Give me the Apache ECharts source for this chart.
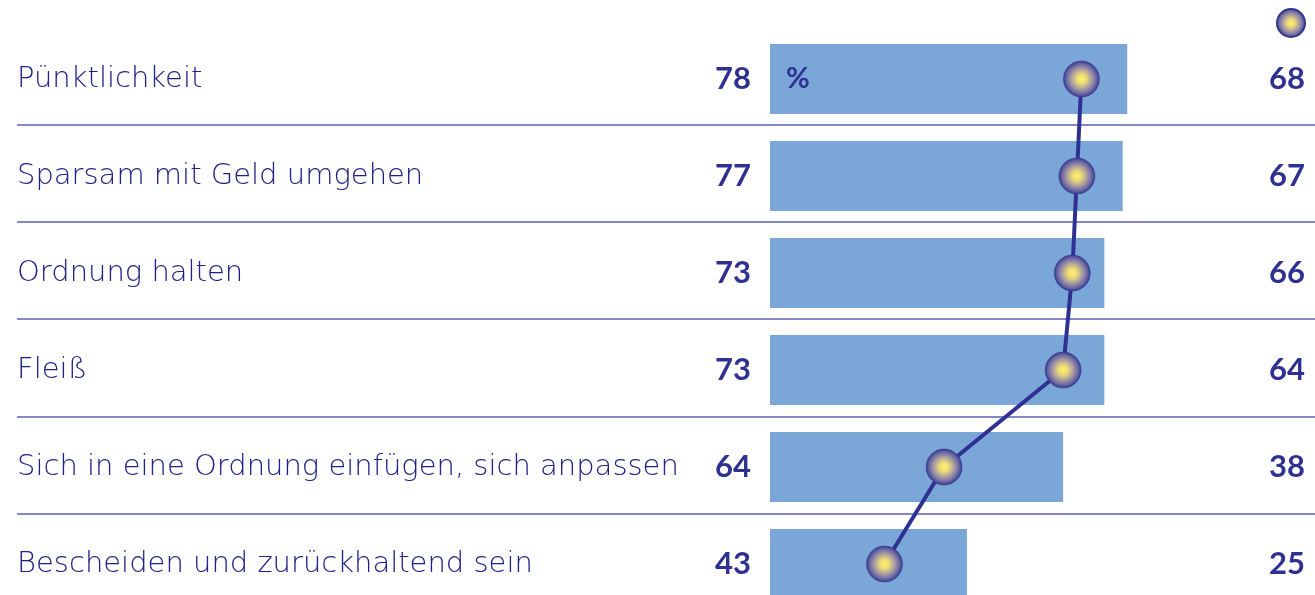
<!DOCTYPE html>
<html>
<head>
<meta charset="utf-8">
<script src="https://cdn.jsdelivr.net/npm/echarts@6/dist/echarts.min.js"></script>
<style>
  html, body { margin: 0; padding: 0; background: #fff; }
  #chart { width: 1315px; height: 595px; }
</style>
</head>
<body>
<div id="chart"></div>
<script>
// data
var categories = [
    'Pünktlichkeit',
    'Sparsam mit Geld umgehen',
    'Ordnung halten',
    'Fleiß',
    'Sich in eine Ordnung einfügen, sich anpassen',
    'Bescheiden und zurückhaltend sein'
];
var barValues = [78, 77, 73, 73, 64, 43];
var lineValues = [68, 67, 66, 64, 38, 25];
var separators = ['', '', '', '', ''];

var navy = '#2e3192';
var labelFont = '"DejaVu Sans", sans-serif';
var numFont = 'Lato, "Open Sans", sans-serif';

var dotColor = new echarts.graphic.RadialGradient(0.5, 0.5, 0.5, [
    { offset: 0, color: '#fff45f' },
    { offset: 0.25, color: '#eedb7a' },
    { offset: 0.55, color: '#ab9f9f' },
    { offset: 0.82, color: '#6a67a4' },
    { offset: 1, color: '#33358f' }
]);

var chart = echarts.init(document.getElementById('chart'));

var option = {
    animation: false,
    backgroundColor: '#fff',
    legend: {
        right: 9,
        top: 8,
        padding: 0,
        itemWidth: 28,
        itemHeight: 28,
        data: [{ name: 'Wert 2', icon: 'circle' }],
        formatter: function () { return ''; }
    },
    grid: [
        { left: 770, top: 30.5, width: 458, height: 582, outerBoundsMode: 'none' },
        { left: 17, right: 0, top: 124.5, height: 389, outerBoundsMode: 'none' }
    ],
    xAxis: [
        { type: 'value', gridIndex: 0, min: 0, max: 100, show: false },
        { type: 'value', gridIndex: 1, show: false }
    ],
    yAxis: [
        {
            type: 'category',
            gridIndex: 0,
            inverse: true,
            data: categories,
            axisLine: { show: false },
            axisTick: { show: false },
            axisLabel: {
                align: 'left',
                margin: 753,
                color: '#1e2186',
                fontSize: 29,
                fontWeight: 300,
                fontFamily: labelFont,
                padding: [6, 0, 0, 0]
            }
        },
        {
            type: 'category',
            gridIndex: 0,
            position: 'right',
            inverse: true,
            data: categories,
            axisLine: { show: false },
            axisTick: { show: false },
            axisLabel: {
                align: 'right',
                margin: 77,
                color: navy,
                fontSize: 31,
                fontWeight: 'bold',
                fontFamily: numFont,
                formatter: function (v, i) { return lineValues[i]; }
            }
        },
        {
            // only for the thin separator lines between rows
            type: 'category',
            gridIndex: 1,
            boundaryGap: false,
            data: separators,
            axisLine: { show: false },
            axisTick: { show: false },
            axisLabel: { show: false },
            splitLine: { show: true, interval: 0, lineStyle: { color: '#5b5fb2', width: 1.5 } }
        }
    ],
    series: [
        {
            name: 'Wert 1',
            type: 'bar',
            xAxisIndex: 0,
            yAxisIndex: 0,
            data: barValues,
            barWidth: 70,
            itemStyle: { color: '#7ba7d8' },
            label: {
                show: true,
                position: 'left',
                distance: 19,
                color: navy,
                fontSize: 31,
                fontWeight: 'bold',
                fontFamily: numFont
            }
        },
        {
            type: 'bar',
            xAxisIndex: 0,
            yAxisIndex: 0,
            barGap: '-100%',
            barWidth: 70,
            silent: true,
            itemStyle: { color: 'transparent' },
            data: barValues.map(function (v, i) {
                return {
                    value: v,
                    label: {
                        show: i === 0,
                        position: 'insideLeft',
                        distance: 16,
                        formatter: '%',
                        color: navy,
                        fontSize: 29,
                        fontWeight: 'bold',
                        fontFamily: numFont
                    }
                };
            })
        },
        {
            name: 'Wert 2',
            type: 'line',
            xAxisIndex: 0,
            yAxisIndex: 0,
            data: lineValues,
            z: 5,
            symbol: 'circle',
            symbolSize: 36,
            showSymbol: true,
            itemStyle: { color: dotColor, borderColor: '#34358c', borderWidth: 0.5 },
            lineStyle: { color: navy, width: 4 }
        }
    ]
};

chart.setOption(option);
</script>
</body>
</html>
